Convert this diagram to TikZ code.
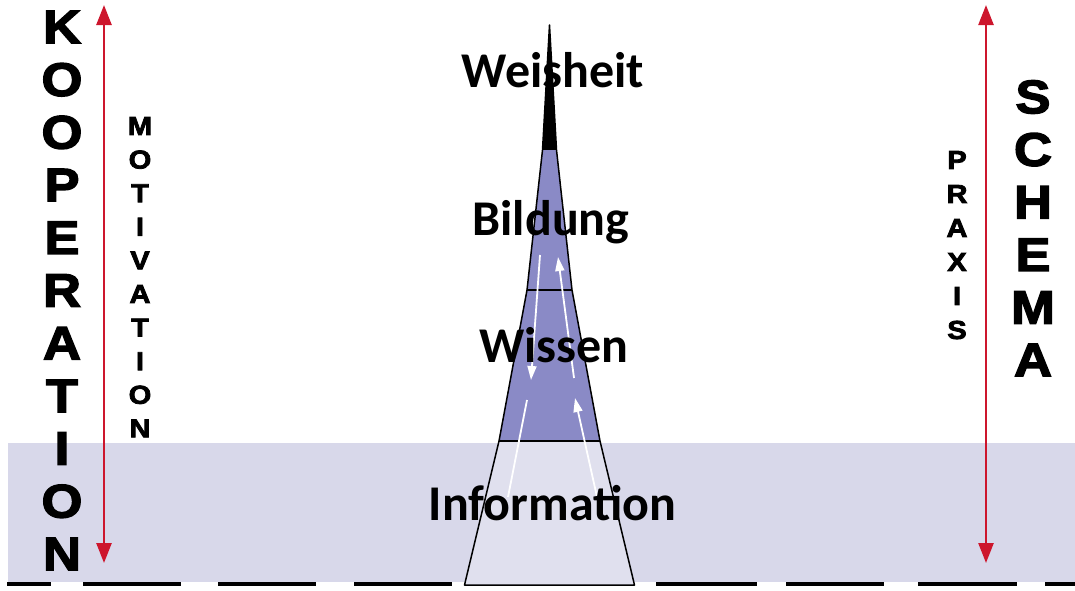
\documentclass[tikz,border=0pt]{standalone}
\usepackage{fontspec}
\setmainfont{Carlito}
\newfontfamily\heavyfont{Liberation Sans}[BoldFeatures={FakeBold=3,FakeStretch=1.12}]
\usetikzlibrary{arrows.meta}

\definecolor{spire}{RGB}{138,138,198}
\definecolor{band}{RGB}{216,216,234}
\definecolor{axisred}{RGB}{205,22,45}

\begin{document}
\begin{tikzpicture}[x=1pt,y=-1pt,
  bigletter/.style={font=\heavyfont\bfseries\fontsize{47}{47}\selectfont,inner sep=0pt},
  smallletter/.style={font=\heavyfont\bfseries\fontsize{26}{26}\selectfont,inner sep=0pt},
  level/.style={font=\bfseries\fontsize{50}{50}\selectfont,anchor=base,inner sep=0pt},
  flow/.style={white,line width=1.8pt},
  redaxis/.style={axisred,line width=2.5pt,{Triangle[length=20pt,width=15pt]}-{Triangle[length=20pt,width=15pt]}}]

\useasboundingbox (0,0) rectangle (1075,590);

% background band and ground line
\fill[band] (8,443) rectangle (1075,582);
\foreach \a/\b in {7/51,83/181,218/316,354/452,656/757,786/884,918/1017,1045/1075}{
  \draw[line width=4pt] (\a,584) -- (\b,584);
}

% the spire
\coordinate (apex) at (549.5,25);
\foreach \n/\y/\w in {tip/150/7,bil/290/22.5,wis/441/50.5,gnd/585/85}{
  \coordinate (\n-l) at ({549.5-\w},\y);
  \coordinate (\n-r) at ({549.5+\w},\y);
}
\fill (apex) -- (tip-l) -- (tip-r) -- cycle;
\fill[spire] (tip-l) -- (bil-l) -- (wis-l) -- (wis-r) -- (bil-r) -- (tip-r) -- cycle;
\fill[band!80!white] (wis-l) -- (gnd-l) -- (gnd-r) -- (wis-r) -- cycle;
\draw[line width=1.5pt,line join=round] (apex) -- (tip-l) -- (bil-l) -- (wis-l) -- (gnd-l)
  -- (gnd-r) -- (wis-r) -- (bil-r) -- (tip-r) -- cycle;
\draw[line width=1.5pt] (bil-l) -- (bil-r);
\draw[line width=1.5pt] (wis-l) -- (wis-r);

% flows inside the spire
\coordinate (d1) at (540,255); \coordinate (d2) at (531,380);
\coordinate (u1) at (574,378); \coordinate (u2) at (558,257);
\coordinate (d3) at (527,400); \coordinate (d4) at (508,497);
\coordinate (u3) at (597,497); \coordinate (u4) at (575,398);
\draw[flow,-{Triangle[length=14pt,width=9pt]}] (d1) -- (d2);
\draw[flow,-{Triangle[length=14pt,width=9pt]}] (u1) -- (u2);
\draw[flow] (d3) -- (d4);
\draw[flow,-{Triangle[length=14pt,width=9pt]}] (u3) -- (u4);

% levels
\node[level] (weisheit) at (553,87) {Weisheit};
\node[level] (bildung) at (551,235) {Bildung};
\node[level] (wissen) at (554,362) {Wissen};
\node[level] (information) at (552.5,520) {Information};

% red axes
\coordinate (lt) at (104,5); \coordinate (lb) at (104,563);
\coordinate (rt) at (986,5); \coordinate (rb) at (986,563);
\draw[redaxis] (lt) -- (lb);
\draw[redaxis] (rt) -- (rb);

% vertical words
\foreach \ch [count=\i] in {K,O,O,P,E,R,A,T,I,O,N}
  \node[bigletter] (koop\i) at (62,{27+52.7*(\i-1)}) {\ch};
\foreach \ch [count=\i] in {M,O,T,I,V,A,T,I,O,N}
  \node[smallletter] (moti\i) at (140,{126+33.6*(\i-1)}) {\ch};
\foreach \ch [count=\i] in {P,R,A,X,I,S}
  \node[smallletter] (prax\i) at (957,{160+34*(\i-1)}) {\ch};
\foreach \ch [count=\i] in {S,C,H,E,M,A}
  \node[bigletter] (sche\i) at (1033,{97+52.6*(\i-1)}) {\ch};
\end{tikzpicture}
\end{document}
